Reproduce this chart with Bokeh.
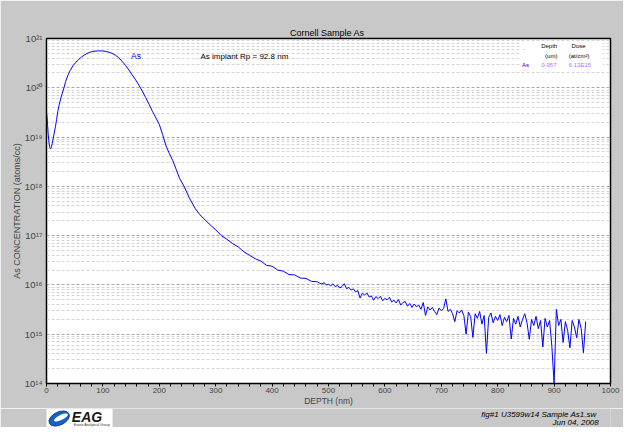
from bokeh.plotting import figure
from bokeh.layouts import column
from bokeh.models import FixedTicker, Label, BoxAnnotation, CustomJSTickFormatter
from bokeh.core.properties import value
from bokeh.embed import file_html
from bokeh.resources import INLINE

# ---- data ----
depth_nm = [0, 1, 2, 3, 4, 5, 6, 7, 8, 9, 10, 11, 12, 13, 14, 15, 16, 17, 18, 20,
            22, 25, 28, 31, 34, 38, 42, 47, 52, 57, 62, 68, 74, 80, 86, 92, 98, 104,
            110, 116, 122, 128, 134, 140, 146, 152, 158, 164, 170, 176, 182, 188, 194,
            200, 206, 212, 218, 224, 230, 236, 244, 253, 264, 272, 281, 290, 299, 310,
            320, 330, 340, 350, 360, 370, 380, 390, 400, 410, 420, 430, 440, 450, 460,
            470, 480]
as_conc = [3.3e19, 2.5e19, 1.7e19, 1.15e19, 8.5e18, 7.0e18, 6.1e18, 5.8e18, 5.9e18,
           6.4e18, 7.3e18, 8.3e18, 9.5e18, 1.1e19, 1.26e19, 1.45e19, 1.66e19, 1.95e19,
           2.3e19, 3.3e19, 4.3e19, 5.9e19, 7.8e19, 1.0e20, 1.35e20, 1.8e20, 2.25e20,
           2.8e20, 3.3e20, 3.75e20, 4.2e20, 4.7e20, 5.1e20, 5.4e20, 5.55e20, 5.6e20,
           5.6e20, 5.5e20, 5.3e20, 5.0e20, 4.6e20, 4.1e20, 3.45e20, 2.85e20, 2.3e20,
           1.82e20, 1.45e20, 1.12e20, 8.5e19, 6.3e19, 4.6e19, 3.3e19, 2.45e19, 1.8e19,
           1.12e19, 6.6e18, 4.6e18, 3.3e18, 2.2e18, 1.45e18, 1.0e18, 5.9e17, 3.5e17,
           2.65e17, 2.1e17, 1.66e17, 1.35e17, 1.0e17, 8.4e16, 6.9e16, 5.9e16, 4.7e16,
           4.0e16, 3.4e16, 3.05e16, 2.5e16, 2.4e16, 2.0e16, 1.9e16, 1.62e16, 1.6e16,
           1.38e16, 1.36e16, 1.18e16, 1.16e16]

tail_depth_nm = [484, 488, 492, 496, 500, 504, 508, 512, 516, 520, 524, 528, 532, 536,
                 540, 544, 548, 552, 556, 560, 564, 568, 572, 576, 580, 584, 588, 592,
                 596, 600, 604, 608, 612, 616, 620, 624, 628, 632, 636, 640, 644, 648,
                 652, 656, 660, 664, 668, 672, 676, 680, 684, 688, 692, 696, 700, 704,
                 708, 712, 716, 720, 724, 728, 732, 736, 740, 744, 748, 752, 756, 760,
                 764, 768, 772, 776, 780, 784, 788, 792, 796, 800, 804, 808, 812, 816,
                 820, 824, 828, 832, 836, 840, 844, 848, 852, 856, 860, 864, 868, 872,
                 876, 880, 884, 888, 892, 896, 900, 904, 908, 912, 916, 920, 924, 928,
                 932, 936, 940, 944, 948, 952, 956]
tail_as_conc = [10.9e15, 10.4e15, 11.1e15, 10.0e15, 10.3e15, 9.6e15, 10.5e15, 9.2e15,
                9.8e15, 8.7e15, 9.3e15, 10.6e15, 8.4e15, 8.9e15, 7.9e15, 8.3e15, 7.2e15,
                7.7e15, 5.4e15, 6.8e15, 6.2e15, 6.9e15, 5.7e15, 6.0e15, 4.9e15, 5.8e15,
                5.3e15, 5.9e15, 4.8e15, 5.3e15, 5.0e15, 5.6e15, 4.5e15, 4.9e15, 4.3e15,
                5.1e15, 3.9e15, 4.4e15, 4.6e15, 3.7e15, 4.2e15, 3.5e15, 4.1e15, 3.6e15,
                3.9e15, 3.2e15, 4.4e15, 2.4e15, 3.6e15, 3.1e15, 3.5e15, 2.9e15, 2.5e15,
                3.4e15, 3.0e15, 3.3e15, 5.2e15, 2.9e15, 3.2e15, 2.6e15, 1.8e15, 3.0e15,
                2.7e15, 3.1e15, 2.4e15, 1.0e15, 2.8e15, 2.3e15, 0.86e15, 2.6e15, 2.1e15,
                2.9e15, 1.6e15, 2.4e15, 0.41e15, 2.2e15, 2.7e15, 1.7e15, 2.3e15, 1.9e15,
                2.5e15, 1.5e15, 2.2e15, 1.8e15, 2.4e15, 0.8e15, 2.1e15, 1.6e15, 2.3e15,
                1.4e15, 2.0e15, 2.6e15, 1.7e15, 0.79e15, 2.0e15, 1.5e15, 2.3e15, 1.3e15,
                1.9e15, 0.55e15, 2.1e15, 1.4e15, 1.9e15, 0.57e15, 0.1e15, 3.2e15, 1.5e15,
                2.0e15, 0.68e15, 1.8e15, 1.2e15, 0.53e15, 1.9e15, 1.4e15, 0.85e15, 2.0e15,
                1.3e15, 0.42e15, 1.8e15]

x_ticks = [0, 100, 200, 300, 400, 500, 600, 700, 800, 900, 1000]
x_minor_ticks = [v for v in range(0, 1001, 20) if v % 100 != 0]
y_decades = [1e14, 1e15, 1e16, 1e17, 1e18, 1e19, 1e20, 1e21]
y_minor = [m * d for d in y_decades[:-1] for m in range(2, 10)]

title_text = "Cornell  Sample As"
x_label = "DEPTH (nm)"
y_label = "As CONCENTRATION (atoms/cc)"
species = "As"
note_text = "As implant Rp = 92.8 nm"
legend_head = ["Depth", "Dose"]
legend_units = ["(um)", "(at/cm\u00b2)"]
legend_values = ["0-957", "6.13E15"]
footer1 = "fig#1 U3599w14  Sample As1.sw"
footer2 = "Jun 04, 2008"

FONT = "Liberation Sans"
GRAY = "#c8c8c8"
W = 623

p = figure(width=W, height=408, x_range=(0, 1000), y_range=(1e14, 1e21),
           y_axis_type="log", output_backend="svg", toolbar_location=None,
           min_border_left=46, min_border_right=13, min_border_top=38,
           min_border_bottom=24)
p.background_fill_color = "white"
p.border_fill_color = GRAY
p.outline_line_color = "black"
p.outline_line_width = 1.5

p.title.text = title_text
p.title.align = "center"
p.title.text_font = FONT
p.title.text_font_size = "9px"
p.title.text_font_style = "normal"
p.title.text_color = "black"
p.title.standoff = 1

# axes
xa = p.xaxis[0]
xa.ticker = FixedTicker(ticks=x_ticks, minor_ticks=x_minor_ticks)
xa.axis_label = x_label
xa.axis_label_text_font = FONT
xa.axis_label_text_font_size = "8.5px"
xa.axis_label_text_font_style = "normal"
xa.axis_label_standoff = 0
xa.major_label_text_font = FONT
xa.major_label_text_font_size = "8px"
xa.major_label_standoff = 1
xa.major_tick_in = 0
xa.major_tick_out = 3
xa.minor_tick_in = 0
xa.minor_tick_out = 3
xa.axis_line_color = "black"

ya = p.yaxis[0]
ya.ticker = FixedTicker(ticks=y_decades, minor_ticks=y_minor)
ya.formatter = CustomJSTickFormatter(code="""
const sup = {'0':'\u2070','1':'\u00b9','2':'\u00b2','3':'\u00b3','4':'\u2074',
             '5':'\u2075','6':'\u2076','7':'\u2077','8':'\u2078','9':'\u2079','-':'\u207b'};
const e = Math.round(Math.log10(tick));
return '10' + String(e).split('').map(c => sup[c]).join('');
""")
ya.axis_label = y_label
ya.axis_label_text_font = FONT
ya.axis_label_text_font_size = "9px"
ya.axis_label_text_font_style = "normal"
ya.axis_label_standoff = 0
ya.major_label_text_font = FONT
ya.major_label_text_font_size = "9.5px"
ya.major_label_standoff = 0
ya.major_tick_line_color = None
ya.minor_tick_line_color = None
ya.major_tick_out = 0
ya.major_tick_in = 0
ya.axis_line_color = "black"

p.xgrid.visible = False
p.ygrid.grid_line_color = "#a8a8a8"
p.ygrid.grid_line_dash = "3 2"
p.ygrid.grid_line_width = 1
p.ygrid.minor_grid_line_color = "#d4d4d4"
p.ygrid.minor_grid_line_dash = "3 2"

# legend background box (drawn under the data)
p.add_layout(BoxAnnotation(left=839, right=986, top=8.9e20, bottom=2.54e20,
                           fill_color="white", fill_alpha=1.0, line_color=None,
                           level="underlay"))

# data line
p.line(depth_nm + tail_depth_nm, as_conc + tail_as_conc, line_color="#0000ff",
       line_width=1)

# in-plot annotations (data units)
p.add_layout(Label(x=150, y=4.4e20, text=species, text_font=FONT,
                   text_font_size="8.5px", text_color="#0000ff", text_baseline="middle"))
p.add_layout(Label(x=273, y=4.4e20, text=note_text, text_font=FONT,
                   text_font_size="8px", text_color="black", text_baseline="middle"))

leg = [(".", 845, 6.5e20, "black"),
       (legend_head[0], 877, 7.1e20, "black"), (legend_head[1], 931, 7.1e20, "black"),
       (legend_units[0], 884, 4.37e20, "black"), (legend_units[1], 926, 4.37e20, "black"),
       (species, 843, 2.96e20, "#0000ff"), (legend_values[0], 877, 2.96e20, "#b070ff"),
       (legend_values[1], 926, 2.96e20, "#b070ff")]
for t, lx, ly, c in leg:
    p.add_layout(Label(x=lx, y=ly, text=t, text_font=FONT, text_font_size="6px",
                       text_color=c, text_baseline="middle"))

# ---- footer strip: logo and file info ----
FH = 19
f = figure(width=W, height=FH, x_range=(0, W), y_range=(FH, 0),
           output_backend="svg", toolbar_location=None,
           x_axis_location=None, y_axis_location=None,
           min_border=0, min_border_left=0, min_border_right=0,
           min_border_top=0, min_border_bottom=0)
f.background_fill_color = GRAY
f.border_fill_color = GRAY
f.outline_line_color = None
f.grid.visible = False

# EAG logo
f.quad(left=0, right=73, top=0, bottom=FH, fill_color="white", line_color=None)
f.ellipse(x=14, y=10, width=24, height=13, angle=0.45, fill_color="#1464c8",
          line_color="#0a3c8c")
f.ellipse(x=16, y=9, width=17, height=5, angle=0.45, fill_color="white",
          line_color=None)
f.text(x=[28], y=[8], text=["EAG"], text_font=value(FONT), text_font_size="14px",
       text_font_style="bold italic", text_color="#1a1a1a", text_baseline="middle")
f.text(x=[30], y=[16.5], text=["Evans Analytical Group"], text_font=value(FONT),
       text_font_size="3.5px", text_color="#333333", text_baseline="middle")

f.text(x=[610, 610], y=[5.6, 14.3], text=[footer1, footer2], text_font=value(FONT),
       text_font_size="8px", text_font_style="italic", text_align="right",
       text_baseline="middle", text_color="black")

layout = column(p, f, spacing=0)
open("out.html", "w").write(file_html(layout, INLINE))
